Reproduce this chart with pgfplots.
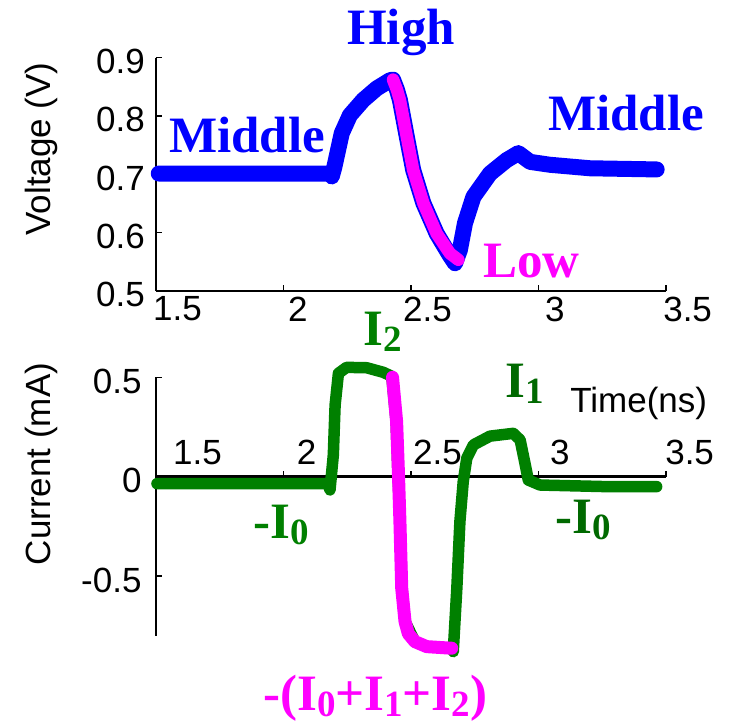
\documentclass[border=0pt]{standalone}
\usepackage{pgfplots}
\pgfplotsset{compat=1.18}
\usepackage{fontspec}
\setmainfont{Liberation Sans}
\newfontfamily\tnr{Liberation Serif}
\definecolor{vblue}{RGB}{0,0,255}
\definecolor{vmag}{RGB}{255,0,255}
\definecolor{cgreen}{RGB}{0,128,0}
\definecolor{dgreen}{RGB}{0,105,0}
\newcommand{\sub}[1]{\raisebox{-0.12em}{\fontsize{37}{40}\selectfont #1}}
\newcommand{\lbl}{\tnr\bfseries\fontsize{51}{55}\selectfont}
\begin{document}
\begin{tikzpicture}
\useasboundingbox (0pt,0pt) rectangle (731pt,-725pt);
% ---------------- Voltage ----------------
\begin{axis}[
  at={(155.7pt,-290.7pt)}, anchor=south west,
  scale only axis, width=510.4pt, height=233.2pt,
  xmin=1.5, xmax=3.5, ymin=0.5, ymax=0.9,
  axis x line*=bottom, axis y line*=left,
  axis line style={line width=2pt,-},
  tick style={line width=1.5pt, black},
  major tick length=6pt, tick align=inside,
  xtick={1.5,2,2.5,3,3.5},
  xticklabels={\hspace*{-2.7pt}1.5,\hspace*{4.7pt}2,\hspace*{-7.9pt}2.5,\hspace*{6.5pt}3,\hspace*{-3pt}3.5},
  ytick={0.5,0.6,0.7,0.8,0.9},
  yticklabels={0.5,0.6,0.7,0.8,0.9},
  tick label style={font=\fontsize{35}{40}\selectfont, inner sep=0pt},
  xticklabel style={anchor=north west, yshift=-6pt},
  yticklabel style={anchor=east, xshift=-10.7pt, yshift=-4pt},
  ylabel={Voltage (V)},
  ylabel style={at={(axis description cs:-0.223,0.608)}, anchor=center, font=\fontsize{35}{40}\selectfont, inner sep=0pt},
  clip=false,
]
\addplot[vblue, line width=16pt, line cap=round, line join=round] coordinates {
(1.512,0.701) (2.183,0.701) (2.190,0.696) (2.200,0.712) (2.209,0.730)
(2.229,0.770) (2.261,0.801) (2.313,0.827) (2.366,0.847) (2.418,0.861)
(2.430,0.862) (2.445,0.845) (2.457,0.827) (2.484,0.764) (2.509,0.707)
(2.549,0.650) (2.601,0.598) (2.653,0.560) (2.673,0.547) (2.692,0.570)
(2.712,0.616) (2.745,0.661) (2.810,0.701) (2.875,0.724) (2.921,0.736)
(2.967,0.721) (3.045,0.716) (3.202,0.710) (3.463,0.708)
};
\addplot[vmag, line width=12.5pt, line cap=round, line join=round] coordinates {
(2.430,0.862) (2.445,0.845) (2.457,0.827) (2.484,0.764) (2.509,0.707)
(2.549,0.650) (2.601,0.598) (2.653,0.564) (2.686,0.553)
};
\end{axis}
% ---------------- Current ----------------
\begin{axis}[
  at={(155.7pt,-635.7pt)}, anchor=south west,
  scale only axis, width=510.4pt, height=258.4pt,
  xmin=1.5, xmax=3.5, ymin=-0.8, ymax=0.5,
  axis x line=middle, axis y line=left,
  axis line style={-},
  x axis line style={line width=3pt},
  y axis line style={line width=2pt},
  hide obscured x ticks=false, hide obscured y ticks=false,
  tick style={line width=1.5pt, black},
  major tick length=6pt, tick align=inside,
  xtick={1.5,2,2.5,3,3.5},
  xticklabels={\hspace*{17.3pt}1.5,\hspace*{13.4pt}2,\hspace*{2.1pt}2.5,\hspace*{11.5pt}3,\hspace*{-1pt}3.5},
  ytick={-0.5,0,0.5},
  yticklabels={-0.5,0,0.5},
  tick label style={font=\fontsize{35}{40}\selectfont, inner sep=0pt},
  xticklabel style={anchor=south west, yshift=11.7pt},
  yticklabel style={anchor=east, xshift=-14pt, yshift=-4pt},
  xlabel={Time(ns)},
  xlabel style={at={(axis description cs:0.812,0.862)}, anchor=base west, font=\fontsize{35}{40}\selectfont, inner sep=0pt},
  ylabel={Current (mA)},
  ylabel style={at={(axis description cs:-0.223,0.6645)}, anchor=center, rotate=0, font=\fontsize{35}{40}\selectfont, inner sep=0pt},
  clip=false,
]
\addplot[cgreen, line width=11.5pt, line cap=round, line join=round] coordinates {
(1.505,-0.035) (2.175,-0.035) (2.183,-0.067) (2.196,0.109) (2.203,0.360)
(2.216,0.520) (2.248,0.550) (2.327,0.548) (2.392,0.525) (2.425,0.505)
(2.442,0.277) (2.449,0.025) (2.457,-0.226) (2.465,-0.561) (2.477,-0.729)
(2.516,-0.830) (2.562,-0.855) (2.660,-0.863) (2.666,-0.880) (2.680,-0.561)
(2.692,-0.226) (2.705,-0.025) (2.719,0.093) (2.745,0.160) (2.810,0.204)
(2.901,0.218) (2.928,0.185) (2.947,0.067) (2.960,-0.017) (3.006,-0.042)
(3.267,-0.050) (3.463,-0.050)
};
\addplot[vmag, line width=13pt, line cap=round, line join=round] coordinates {
(2.428,0.500) (2.444,0.277) (2.451,0.025) (2.457,-0.226) (2.464,-0.561)
(2.477,-0.729) (2.490,-0.790) (2.516,-0.830) (2.562,-0.855) (2.660,-0.863)
};
\end{axis}
% ---------------- annotations ----------------
\node[anchor=base west, inner sep=0pt, text=vblue, font=\lbl] at (347pt,-45pt) {High};
\node[anchor=base west, inner sep=0pt, text=vblue, font=\lbl] at (169pt,-152pt) {Middle};
\node[anchor=base west, inner sep=0pt, text=vblue, font=\lbl] at (548pt,-130pt) {Middle};
\node[anchor=base west, inner sep=0pt, text=vmag, font=\lbl] at (483pt,-277pt) {Low};
\node[anchor=base west, inner sep=0pt, text=cgreen, font=\lbl] at (363pt,-345pt) {I\sub{2}};
\node[anchor=base west, inner sep=0pt, text=dgreen, font=\lbl] at (505pt,-397pt) {I\sub{1}};
\node[anchor=base west, inner sep=0pt, text=cgreen, font=\lbl] at (253pt,-538pt) {-I\sub{0}};
\node[anchor=base west, inner sep=0pt, text=dgreen, font=\lbl] at (555pt,-533pt) {-I\sub{0}};
\node[anchor=base west, inner sep=0pt, text=vmag, font=\lbl] at (263pt,-710pt) {-(I\sub{0}+I\sub{1}+I\sub{2})};
\end{tikzpicture}
\end{document}
